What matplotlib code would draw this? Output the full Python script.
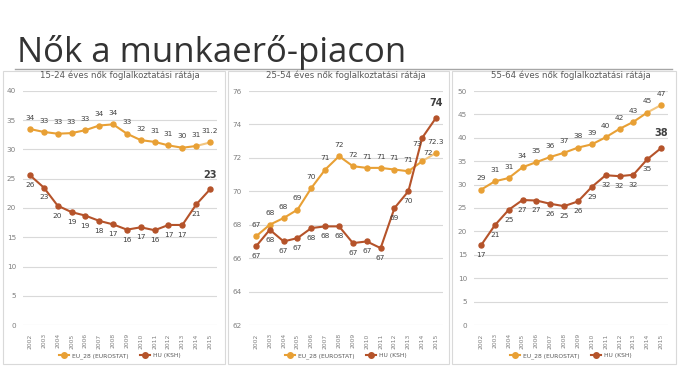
import matplotlib
matplotlib.use("Agg")
import matplotlib.pyplot as plt
from matplotlib.patches import Rectangle
from matplotlib.lines import Line2D

years = [str(y) for y in range(2002, 2016)]

titles = ["15-24 éves nők foglalkoztatási rátája",
          "25-54 éves nők foglalkoztatási rátája",
          "55-64 éves nők foglalkoztatási rátája"]

eu_1524 = [33.5, 33.0, 32.7, 32.8, 33.3, 34.1, 34.3, 32.7, 31.6, 31.3, 30.7, 30.3, 30.6, 31.2]
hu_1524 = [25.6, 23.5, 20.4, 19.3, 18.7, 17.8, 17.2, 16.3, 16.7, 16.2, 17.1, 17.1, 20.6, 23.2]
eu_1524_lbl = ["34", "33", "33", "33", "33", "34", "34", "33", "32", "31", "31", "30", "31", "31.2"]
hu_1524_lbl = ["26", "23", "20", "19", "19", "18", "17", "16", "17", "16", "17", "17", "21", "23"]

eu_2554 = [67.3, 68.0, 68.4, 68.9, 70.2, 71.3, 72.1, 71.5, 71.4, 71.4, 71.3, 71.2, 71.8, 72.3]
hu_2554 = [66.7, 67.7, 67.0, 67.2, 67.8, 67.9, 67.9, 66.9, 67.0, 66.6, 69.0, 70.0, 73.2, 74.4]
eu_2554_lbl = ["67", "68", "68", "69", "70", "71", "72", "72", "71", "71", "71", "71", "72", "72.3"]
hu_2554_lbl = ["67", "68", "67", "67", "68", "68", "68", "67", "67", "67", "69", "70", "73", "74"]

eu_5564 = [28.9, 30.7, 31.4, 33.7, 34.8, 35.9, 36.8, 37.9, 38.6, 40.1, 41.9, 43.4, 45.4, 47.0]
hu_5564 = [17.0, 21.3, 24.6, 26.7, 26.6, 25.9, 25.4, 26.4, 29.5, 32.0, 31.8, 32.1, 35.4, 37.8]
eu_5564_lbl = ["29", "31", "31", "34", "35", "36", "37", "38", "39", "40", "42", "43", "45", "47"]
hu_5564_lbl = ["17", "21", "25", "27", "27", "26", "25", "26", "29", "32", "32", "32", "35", "38"]

ylims = [(0, 40, 5), (62, 76, 2), (0, 50, 5)]
series = [(eu_1524, hu_1524, eu_1524_lbl, hu_1524_lbl),
          (eu_2554, hu_2554, eu_2554_lbl, hu_2554_lbl),
          (eu_5564, hu_5564, eu_5564_lbl, hu_5564_lbl)]

legend_labels = ["EU_28 (EUROSTAT)", "HU (KSH)"]

EU_C = "#E8A035"
EU_LIGHT = "#F3C57E"
HU_C = "#B5532A"
TXT = "#404040"
GRID = "#D9D9D9"

W, H = 688, 366
fig = plt.figure(figsize=(W / 100, H / 100), dpi=100)
fig.patch.set_facecolor("white")

def fx(px):
    return px / W

def fy(py):
    return 1 - py / H

# Title and rule
fig.text(fx(17), fy(62), "Nők a munkaerő-piacon", fontsize=25, family="Open Sans",
         color="#333333", va="baseline", ha="left")
fig.add_artist(Line2D([fx(15), fx(672)], [fy(68.5), fy(68.5)], color="#A6A6A6", lw=1.0))

panel_boxes = [(3, 225), (228, 449), (452, 676)]
ax_lefts = [23, 249, 474]
ax_w = 194
ax_top, ax_bot = 91, 325

for i in range(3):
    x0, x1 = panel_boxes[i]
    fig.add_artist(Rectangle((fx(x0), fy(364)), fx(x1 - x0), (364 - 71) / H,
                             fill=True, facecolor="white", edgecolor="#D9D9D9", lw=0.8, zorder=0))

for i in range(3):
    eu, hu, eul, hul = series[i]
    lo, hi, step = ylims[i]
    ax = fig.add_axes([fx(ax_lefts[i]), fy(ax_bot), fx(ax_w), (ax_bot - ax_top) / H])
    ax.set_facecolor("none")
    x = list(range(len(years)))
    ax.plot(x[:-1], eu[:-1], color=EU_C, lw=1.5, marker="o", ms=3.6, zorder=3)
    ax.plot(x[-2:], eu[-2:], color=EU_LIGHT, lw=1.5, zorder=2)
    ax.plot([x[-1]], [eu[-1]], color=EU_C, marker="o", ms=3.6, zorder=3, lw=0)
    ax.plot(x, hu, color=HU_C, lw=1.5, marker="o", ms=3.6, zorder=3)
    ax.set_xlim(-0.5, len(years) - 0.5)
    ax.set_ylim(lo, hi)
    ax.set_yticks(range(lo, hi + 1, step))
    ax.set_xticks(x)
    ax.set_xticklabels(years, rotation=90, fontsize=4.3, color="#7f7f7f")
    ax.tick_params(axis="y", labelsize=5.2, labelcolor="#7f7f7f", length=0, pad=5)
    ax.tick_params(axis="x", length=0, pad=6)
    ax.grid(axis="y", color=GRID, lw=0.8)
    ax.set_axisbelow(True)
    for s in ax.spines.values():
        s.set_visible(False)
    n = len(x)
    for j in range(n):
        eoff = (0, 6)
        hoff = (0, -5)
        if i == 1 and j == n - 2:
            eoff = (4, 4)
            hoff = (-4, -2)
        ax.annotate(eul[j], (x[j], eu[j]), xytext=eoff, textcoords="offset points",
                    ha="center", va="bottom", fontsize=5.3, color=TXT)
        if j == n - 1:
            ax.annotate(hul[j], (x[j], hu[j]), xytext=(0, 7), textcoords="offset points",
                        ha="center", va="bottom", fontsize=7, fontweight="bold", color=TXT)
        else:
            ax.annotate(hul[j], (x[j], hu[j]), xytext=hoff, textcoords="offset points",
                        ha="center", va="top", fontsize=5.3, color=TXT)
    ax.set_title(titles[i], fontsize=6.2, color="#595959", pad=9)
    handles = [Line2D([], [], color=EU_C, lw=1.5, marker="o", ms=4),
               Line2D([], [], color=HU_C, lw=1.5, marker="o", ms=4)]
    cx = ax_lefts[i] + ax_w / 2
    ax.legend(handles, legend_labels, loc="center", bbox_to_anchor=(fx(cx), fy(356)),
              bbox_transform=fig.transFigure, ncol=2, frameon=False, fontsize=4.3,
              labelcolor="#595959", handlelength=1.6, columnspacing=2.0, handletextpad=0.5)

fig.savefig("out.png", dpi=100, facecolor="white")
